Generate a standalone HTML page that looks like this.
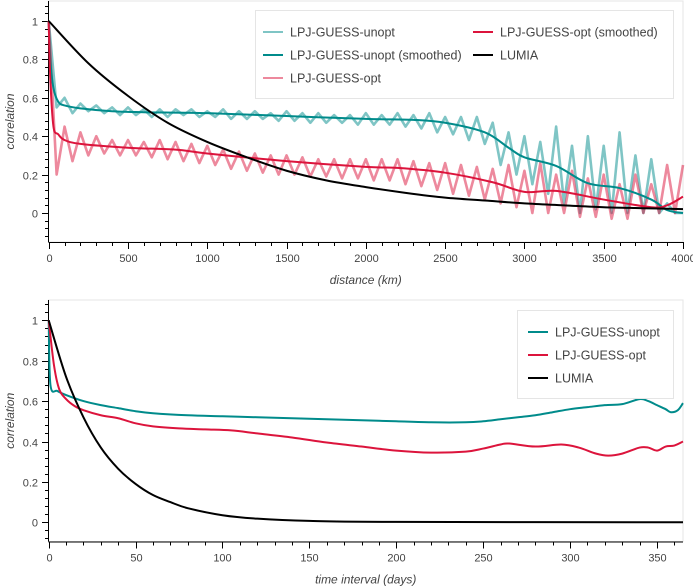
<!DOCTYPE html>
<html><head><meta charset="utf-8"><style>
body{margin:0;background:#fff;}
svg{display:block;font-family:"Liberation Sans",sans-serif;}
</style></head><body>
<svg id="c" width="693" height="587"></svg>
<script>
// ---- top chart data ----
const rawX=[0,50,100,150,200,250,300,350,400,450,500,550,600,650,700,750,800,850,900,950,1000,1050,1100,1150,1200,1250,1300,1350,1400,1450,1500,1550,1600,1650,1700,1750,1800,1850,1900,1950,2000,2050,2100,2150,2200,2250,2300,2350,2400,2450,2500,2550,2600,2650,2700,2750,2800,2850,2900,2950,3000,3050,3100,3150,3200,3250,3300,3350,3400,3450,3500,3550,3600,3650,3700,3750,3800,3850,3900,3950,4000];
const unoptRaw=[1.0,0.55,0.6,0.52,0.57,0.53,0.56,0.52,0.55,0.51,0.55,0.51,0.54,0.5,0.54,0.5,0.54,0.51,0.54,0.5,0.53,0.5,0.54,0.49,0.53,0.49,0.53,0.49,0.52,0.48,0.53,0.48,0.52,0.47,0.52,0.47,0.51,0.47,0.51,0.46,0.52,0.46,0.51,0.46,0.52,0.45,0.51,0.44,0.52,0.42,0.5,0.41,0.5,0.38,0.5,0.36,0.47,0.25,0.42,0.2,0.4,0.15,0.37,0.1,0.45,0.05,0.35,0.0,0.4,0.02,0.35,0.0,0.42,0.0,0.3,0.0,0.28,0.0,0.05,0.0,0.0];
const optRaw=[1.0,0.2,0.45,0.27,0.42,0.3,0.4,0.31,0.38,0.3,0.38,0.3,0.37,0.29,0.38,0.28,0.37,0.27,0.36,0.26,0.35,0.25,0.33,0.23,0.32,0.22,0.31,0.21,0.3,0.2,0.3,0.2,0.29,0.19,0.28,0.19,0.28,0.18,0.28,0.18,0.28,0.17,0.28,0.17,0.28,0.15,0.27,0.14,0.26,0.12,0.26,0.1,0.25,0.09,0.24,0.07,0.23,0.05,0.25,0.03,0.22,0.0,0.26,0.0,0.2,0.0,0.22,-0.02,0.18,-0.02,0.2,-0.03,0.15,-0.03,0.2,0.0,0.15,0.0,0.25,0.0,0.25];
const unoptSmX=[0,10,30,60,100,200,400,600,1000,1500,2000,2300,2500,2750,2900,3000,3200,3400,3600,3800,3900,4000];
const unoptSm=[1,0.8,0.65,0.58,0.56,0.545,0.53,0.525,0.52,0.505,0.49,0.485,0.47,0.42,0.34,0.29,0.245,0.155,0.13,0.07,0.015,0.0];
const optSmX=[0,10,30,60,100,200,500,800,1000,1500,2000,2200,2500,2800,3000,3200,3500,3800,3900,4000];
const optSm=[1,0.7,0.45,0.41,0.38,0.36,0.34,0.33,0.31,0.27,0.24,0.235,0.21,0.16,0.11,0.115,0.07,0.03,0.04,0.085];
const lumiaX=[0,250,500,750,1000,1250,1500,1750,2000,2250,2500,2750,3000,3250,3500,3750,4000];
const lumia=[1,0.78,0.61,0.47,0.37,0.29,0.22,0.17,0.135,0.105,0.08,0.065,0.05,0.04,0.03,0.025,0.02];
const topXTicks=[0,500,1000,1500,2000,2500,3000,3500,4000];
const yTicks=[0,0.2,0.4,0.6,0.8,1];
const yTickLabels=["0","0.2","0.4","0.6","0.8","1"];
// ---- bottom chart data ----
const dUnoptX=[0,1,5,10,20,30,40,50,60,80,100,120,140,160,180,200,220,240,250,260,270,280,290,300,310,320,330,340,345,350,355,358,362,365];
const dUnopt=[1,0.68,0.65,0.63,0.6,0.58,0.565,0.55,0.54,0.53,0.525,0.52,0.515,0.51,0.505,0.5,0.495,0.495,0.5,0.51,0.52,0.53,0.545,0.56,0.57,0.58,0.585,0.61,0.6,0.58,0.56,0.545,0.555,0.59];
const dOptX=[0,3,6,10,15,20,30,40,50,60,75,90,105,120,140,160,180,200,220,240,250,260,265,280,295,305,315,322,330,340,345,350,355,360,365];
const dOpt=[1,0.78,0.66,0.61,0.575,0.555,0.53,0.515,0.49,0.475,0.465,0.46,0.455,0.44,0.42,0.395,0.375,0.355,0.345,0.35,0.365,0.385,0.39,0.375,0.385,0.37,0.34,0.33,0.34,0.37,0.37,0.355,0.375,0.38,0.4];
const dLumiaX=[0,10,20,30,40,50,60,70,80,100,120,150,200,365];
const dLumia=[1,0.72,0.52,0.37,0.265,0.19,0.135,0.1,0.07,0.035,0.018,0.007,0.002,0];
const botXTicks=[0,50,100,150,200,250,300,350];

const svg=document.getElementById('c');
const NS='http://www.w3.org/2000/svg';
function mk(tag,attrs,parent){const e=document.createElementNS(NS,tag);for(const k in attrs)e.setAttribute(k,attrs[k]);(parent||svg).appendChild(e);return e;}
function linear(d0,d1,r0,r1){return v=>r0+(v-d0)/(d1-d0)*(r1-r0);}
function pathD(xs,ys,sx,sy,smooth){
  const p=xs.map((x,i)=>[sx(x),sy(ys[i])]);
  if(!smooth)return 'M'+p.map(q=>q[0].toFixed(2)+','+q[1].toFixed(2)).join('L');
  let d='M'+p[0][0]+','+p[0][1];
  for(let i=0;i<p.length-1;i++){
    const p0=p[i-1]||p[i],p1=p[i],p2=p[i+1],p3=p[i+2]||p2;
    const c1x=p1[0]+(p2[0]-p0[0])/6,c1y=p1[1]+(p2[1]-p0[1])/6;
    const c2x=p2[0]-(p3[0]-p1[0])/6,c2y=p2[1]-(p3[1]-p1[1])/6;
    d+='C'+c1x.toFixed(2)+','+c1y.toFixed(2)+' '+c2x.toFixed(2)+','+c2y.toFixed(2)+' '+p2[0].toFixed(2)+','+p2[1].toFixed(2);
  }
  return d;
}
function axes(g,sx,sy,x0,x1,top,bottom,xTicks,xMinor,xMax,xLabel,name){
  const fr=mk('rect',{x:48.5,y:top,width:x1-48.5,height:bottom-top,fill:'none',stroke:'#e5e5e5'},g);
  
  const ax=mk('g',{},g);
  mk('line',{x1:48.5,y1:top,x2:48.5,y2:bottom,stroke:'#000'},ax);
  for(let v=-0.12;v<=1.1;v+=0.04){const y=Math.round(sy(v))+0.5;if(y<top||y>bottom)continue;mk('line',{x1:45,x2:48.5,y1:y,y2:y,stroke:'#000'},ax);}
  yTicks.forEach((v,i)=>{const y=Math.round(sy(v))+0.5;mk('line',{x1:42,x2:48.5,y1:y,y2:y,stroke:'#000'},ax);
    const t=mk('text',{x:38,y:y+4,'text-anchor':'end','font-size':11,fill:'#444'},ax);t.textContent=yTickLabels[i];});
  const yl=mk('text',{transform:`translate(14,${(top+bottom)/2}) rotate(-90)`,'text-anchor':'middle','font-size':12,'font-style':'italic',fill:'#444'},g);
  yl.textContent='correlation';
  const xa=mk('g',{},g);
  mk('line',{x1:48.5,y1:bottom+0.5,x2:x1,y2:bottom+0.5,stroke:'#000'},xa);
  for(let v=0;v<=xMax+0.001;v+=xMinor){const x=Math.round(sx(v))+0.5;if(x>x1+1)continue;mk('line',{x1:x,x2:x,y1:bottom,y2:bottom+4,stroke:'#000'},xa);}
  xTicks.forEach(v=>{const x=Math.round(sx(v))+0.5;mk('line',{x1:x,x2:x,y1:bottom,y2:bottom+7,stroke:'#000'},xa);
    const t=mk('text',{x:x,y:bottom+20,'text-anchor':'middle','font-size':11,fill:'#444'},xa);t.textContent=String(v);});
  const xl=mk('text',{x:(48.5+x1)/2,y:bottom+42,'text-anchor':'middle','font-size':12,'font-style':'italic',fill:'#444'},g);
  xl.textContent=xLabel;
}
function series(g,d,color,w,op,nm){const p=mk('path',{d:d,fill:'none',stroke:color,'stroke-width':w,'stroke-opacity':op,'stroke-linejoin':'round'},g);
  }
function legend(g,x,y,w,h,items,name){
  const lg=mk('g',{},g);
  mk('rect',{x:x,y:y,width:w,height:h,fill:'#fff',stroke:'#e5e5e5'},lg);
  items.forEach(it=>{const e=mk('g',{},lg);
    mk('line',{x1:it.x,x2:it.x+20,y1:it.y,y2:it.y,stroke:it.c,'stroke-width':2,'stroke-opacity':it.o},e);
    const t=mk('text',{x:it.x+27,y:it.y+4.5,'font-size':12.5,fill:'#444'},e);t.textContent=it.t;});
}
const TEAL='#008b8b',RED='#dc143c';
{
  const g=mk('g',{});
  const sx=linear(0,4000,48.7,683),sy=linear(0,1,213,21);
  axes(g,sx,sy,0,683,1,242,topXTicks,100,4000,'distance (km)','top');
  series(g,pathD(rawX,unoptRaw,sx,sy,false),TEAL,2.6,0.5,'unopt-raw-line');
  series(g,pathD(rawX,optRaw,sx,sy,false),RED,2.6,0.5,'opt-raw-line');
  series(g,pathD(unoptSmX,unoptSm,sx,sy,true),TEAL,2,1,'unopt-smoothed-line');
  series(g,pathD(optSmX,optSm,sx,sy,true),RED,2,1,'opt-smoothed-line');
  series(g,pathD(lumiaX,lumia,sx,sy,true),'#000',2,1,'lumia-line');
  legend(g,255.5,10.5,418,88,[
    {x:263,y:32,c:TEAL,o:0.5,t:'LPJ-GUESS-unopt'},
    {x:263,y:55,c:TEAL,o:1,t:'LPJ-GUESS-unopt (smoothed)'},
    {x:263,y:78,c:RED,o:0.5,t:'LPJ-GUESS-opt'},
    {x:473,y:32,c:RED,o:1,t:'LPJ-GUESS-opt (smoothed)'},
    {x:473,y:55,c:'#000',o:1,t:'LUMIA'}],'top-legend');
}
{
  const g=mk('g',{});
  const sx=linear(0,365,48.7,683),sy=linear(0,1,522.3,320.3);
  axes(g,sx,sy,0,683,300,541.5,botXTicks,10,365,'time interval (days)','bottom');
  series(g,pathD(dUnoptX,dUnopt,sx,sy,true),TEAL,2,1,'unopt-line');
  series(g,pathD(dOptX,dOpt,sx,sy,true),RED,2,1,'opt-line');
  series(g,pathD(dLumiaX,dLumia,sx,sy,true),'#000',2,1,'lumia-line');
  legend(g,517.5,310.5,156,88,[
    {x:528,y:332,c:TEAL,o:1,t:'LPJ-GUESS-unopt'},
    {x:528,y:355,c:RED,o:1,t:'LPJ-GUESS-opt'},
    {x:528,y:378,c:'#000',o:1,t:'LUMIA'}],'bottom-legend');
}
</script>
</body></html>
